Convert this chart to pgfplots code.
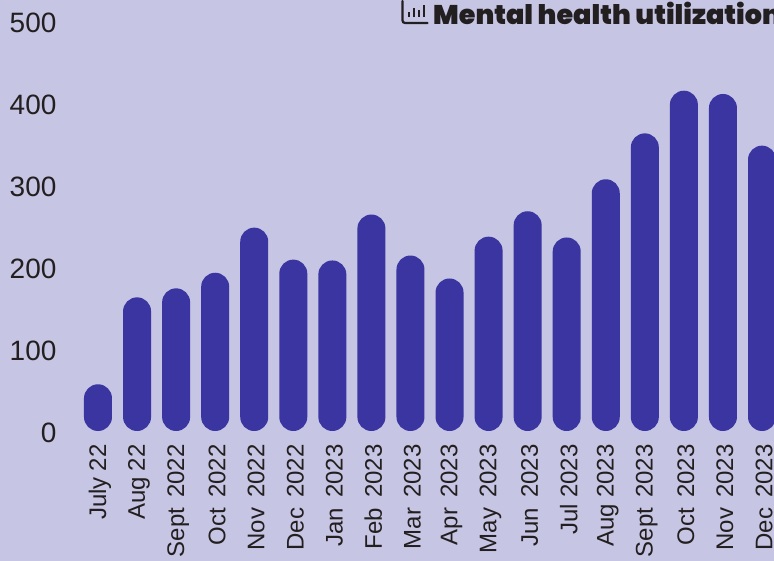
\documentclass[border=0pt]{standalone}
\usepackage{pgfplots}
\pgfplotsset{compat=1.18}
\usepackage{fontspec}
\setmainfont{Liberation Sans}
\newfontfamily\labelfont[WordSpace=1.5]{Liberation Sans}
\newfontfamily\titlefont{Poppins Black}
\definecolor{bg}{HTML}{C6C5E3}
\definecolor{barc}{HTML}{3A35A0}
\definecolor{ink}{HTML}{231F20}
\begin{document}
\begin{tikzpicture}[x=1pt,y=1pt]
\useasboundingbox (0,0) rectangle (774,560);
\fill[bg] (-10,-10) rectangle (784,570);
\clip (0,-10) rectangle (774,570);
\begin{axis}[
  at={(78pt,129pt)}, anchor=south west, scale only axis,
  width=696pt, height=410pt,
  xmin=-0.512, xmax=17.307, ymin=0, ymax=500,
  clip=false,
  axis line style={draw=none},
  major tick length=0pt,
  ytick={0,100,200,300,400,500},
  xtick={0,...,17},
  xticklabels={July\hspace{6pt}22,Aug\hspace{6pt}22,Sept 2022,Oct 2022,Nov 2022,Dec 2022,Jan 2023,Feb 2023,Mar 2023,Apr 2023,May 2023,Jun 2023,Jul\hspace{6pt}2023,Aug\hspace{6pt}2023,Sept 2023,Oct 2023,Nov 2023,Dec 2023},
  xticklabel style={rotate=90, anchor=east, font=\labelfont\fontsize{24}{24}\selectfont, text=ink, xshift=-10pt, yshift=-2pt},
  yticklabel style={anchor=east, font=\fontsize{28}{28}\selectfont, text=ink, xshift=-18pt, yshift=-1.5pt},
  /pgf/number format/assume math mode=true,
  ybar, bar width=28pt, bar shift=0pt,
]
\addplot[fill=barc, draw=none, rounded corners=14pt] coordinates {
(0,57)(1,163)(2,174)(3,193)(4,248)(5,209)(6,208)(7,264)(8,214)(9,186)(10,237)(11,268)(12,236)(13,307)(14,363)(15,415)(16,411)(17,348)};
\end{axis}
\draw[ink, line width=2.2pt, rounded corners=2.5pt, line cap=round] (402.5,559) -- (402.5,537) -- (427.5,537);
\node[anchor=west, inner sep=0pt, text=ink, font=\titlefont\fontsize{27}{27}\selectfont] at (433,547) {Mental health utilization};
\draw[ink, line width=2.2pt] (409,543) -- (409,548) (414,543) -- (414,552) (419,543) -- (419,550) (424,543) -- (424,555);
\end{tikzpicture}
\end{document}
